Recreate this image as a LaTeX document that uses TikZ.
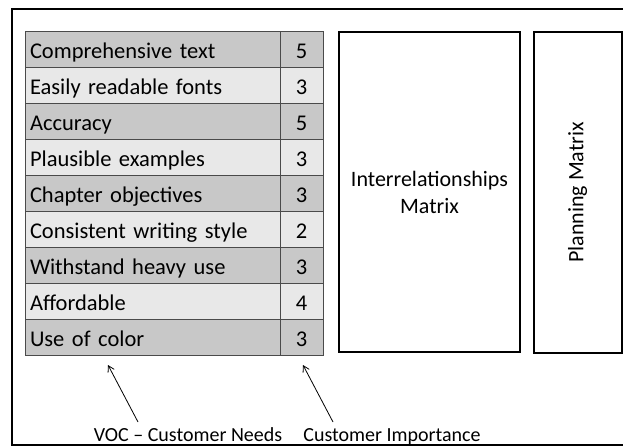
\documentclass[tikz,border=0pt]{standalone}
\usepackage{fontspec}
\setmainfont{Carlito}
\usetikzlibrary{arrows.meta}
\definecolor{darkrow}{HTML}{C8C8C8}
\definecolor{lightrow}{HTML}{E8E8E8}
\definecolor{gridc}{HTML}{4A4A4A}
\begin{document}
\begin{tikzpicture}[x=1pt,y=-1pt,
  cell/.style={draw=gridc,line width=0.9pt,rectangle,inner sep=0pt,minimum height=36pt,text height=18.5pt,text depth=0pt},
  need/.style={cell,minimum width=255pt,text width=245pt,align=left,font=\fontsize{22.5}{26}\selectfont},
  imp/.style={cell,minimum width=43pt,align=center,font=\fontsize{22.5}{26}\selectfont},
  bigbox/.style={draw=black,line width=2pt,rectangle,inner sep=0pt,font=\fontsize{22}{27}\selectfont,align=center},
  lab/.style={font=\fontsize{20}{24}\selectfont,inner sep=0pt},
  pointer/.style={line width=0.8pt,-{Straight Barb[length=6pt,width=7pt]}}]
\useasboundingbox (0,0) rectangle (623,447);
\fill[white] (0,0) rectangle (623,447);
\draw[line width=2pt] (640,9) -- (12,9) -- (12,445) -- (640,445);
\foreach \i/\t/\v in {1/Comprehensive text/5,2/Easily readable fonts/3,3/Accuracy/5,4/Plausible examples/3,5/Chapter objectives/3,6/Consistent writing style/2,7/Withstand heavy use/3,8/Affordable/4,9/Use of color/3}{
  \pgfmathsetmacro{\yc}{31+36*(\i-0.5)}
  \pgfmathparse{mod(\i,2)==1 ? "darkrow" : "lightrow"}
  \edef\rowc{\pgfmathresult}
  \node[need,fill=\rowc] (n\i) at (152.5,\yc) {\t};
  \node[imp,fill=\rowc] (v\i) at (301.5,\yc) {\v};
}
\node[bigbox,minimum width=181pt,minimum height=320pt] (irm) at (429.5,192) {Interrelationships\\Matrix};
\node[bigbox,minimum width=88pt,minimum height=321pt] (pm) at (577.5,192.5) {};
\node[rotate=90,font=\fontsize{22}{26}\selectfont] (pmt) at (pm.center) {Planning Matrix};
\node[lab,anchor=base] (voc) at (188,441) {VOC -- Customer Needs};
\node[lab,anchor=base] (ci) at (392,441) {Customer Importance};
\coordinate (s1) at (138,422);
\coordinate (t1) at (108,365);
\coordinate (s2) at (333,422);
\coordinate (t2) at (303,365);
\draw[pointer] (s1) -- (t1);
\draw[pointer] (s2) -- (t2);
\end{tikzpicture}
\end{document}
